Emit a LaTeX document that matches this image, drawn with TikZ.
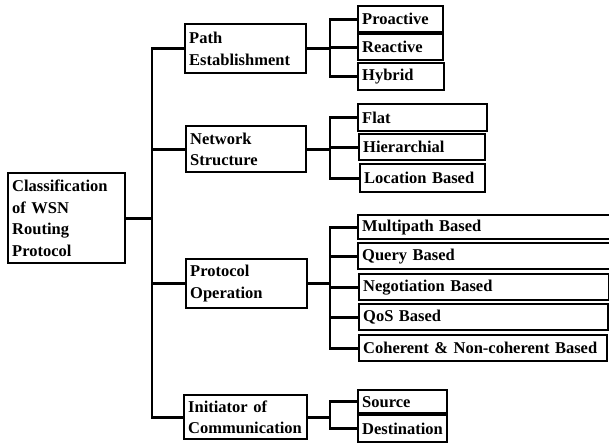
\documentclass[tikz,border=0pt]{standalone}
\usepackage{fontspec}
\setmainfont{Liberation Serif}
\tikzset{
  box/.style={draw, line width=2.4pt, anchor=north west, inner xsep=4pt, inner ysep=0pt,
    align=left, font=\bfseries\fontsize{16.5}{21.5}\selectfont},
  conn/.style={line width=2.8pt, line cap=rect}
}
\newcommand\wsnbox[6]{%
  \pgfmathsetmacro\wsnw{#4-#2}%
  \pgfmathsetmacro\wsnh{#5-#3}%
  \pgfmathsetmacro\wsntw{#4-#2-8}%
  \node[box, minimum width=\wsnw pt, minimum height=\wsnh pt, text width=\wsntw pt] (#1) at (#2,#3) {#6};}
\begin{document}
\begin{tikzpicture}[x=1pt,y=-1pt]
\useasboundingbox (0,0) rectangle (609,445);
% level 0 and 1
\wsnbox{root}{7}{172}{124}{262}{Classification\\of WSN\\Routing\\Protocol}
\wsnbox{path}{184}{23}{305}{72}{Path\\Establishment}
\wsnbox{net}{185}{125}{305}{171}{Network\\Structure}
\wsnbox{prot}{185}{258}{306}{307}{Protocol\\Operation}
\wsnbox{init}{183}{394}{306}{438}{Initiator of\\Communication}
% level 2
\wsnbox{pro}{357}{5}{442}{31}{Proactive}
\wsnbox{rea}{357}{33}{442}{59}{Reactive}
\wsnbox{hyb}{357}{62}{443}{89}{Hybrid}
\wsnbox{flat}{357}{103}{486}{130}{Flat}
\wsnbox{hier}{358}{133}{484}{159}{Hierarchial}
\wsnbox{loc}{359}{163}{484}{191}{Location Based}
\wsnbox{multi}{357}{214}{616}{238}{Multipath Based}
\wsnbox{query}{357}{242}{616}{268}{Query Based}
\wsnbox{nego}{358}{273}{608}{299}{Negotiation Based}
\wsnbox{qos}{358}{303}{607}{329}{QoS Based}
\wsnbox{coh}{358}{334}{606}{360}{Coherent \& Non-coherent Based}
\wsnbox{src}{357}{389}{446}{412}{Source}
\wsnbox{dst}{357}{414}{446}{441}{Destination}
% connectors
\coordinate (trunk) at (152,0);
\coordinate (br) at (330,0);
\draw[conn] (root.east) -- (root.east -| trunk);
\draw[conn] (trunk |- path.west) -- (trunk |- init.west);
\foreach \n in {path,net,prot,init} \draw[conn] (trunk |- \n.west) -- (\n.west);
% brackets
\draw[conn] (path.east) -- (path.east -| br);
\draw[conn] (br |- pro.west) -- (br |- hyb.west);
\foreach \c in {pro,rea,hyb} \draw[conn] (br |- \c.west) -- (\c.west);
\draw[conn] (net.east) -- (net.east -| br);
\draw[conn] (br |- flat.west) -- (br |- loc.west);
\foreach \c in {flat,hier,loc} \draw[conn] (br |- \c.west) -- (\c.west);
\draw[conn] (prot.east) -- (prot.east -| br);
\draw[conn] (br |- multi.west) -- (br |- coh.west);
\foreach \c in {multi,query,nego,qos,coh} \draw[conn] (br |- \c.west) -- (\c.west);
\draw[conn] (init.east) -- (init.east -| br);
\draw[conn] (br |- src.west) -- (br |- dst.west);
\foreach \c in {src,dst} \draw[conn] (br |- \c.west) -- (\c.west);
\end{tikzpicture}
\end{document}
